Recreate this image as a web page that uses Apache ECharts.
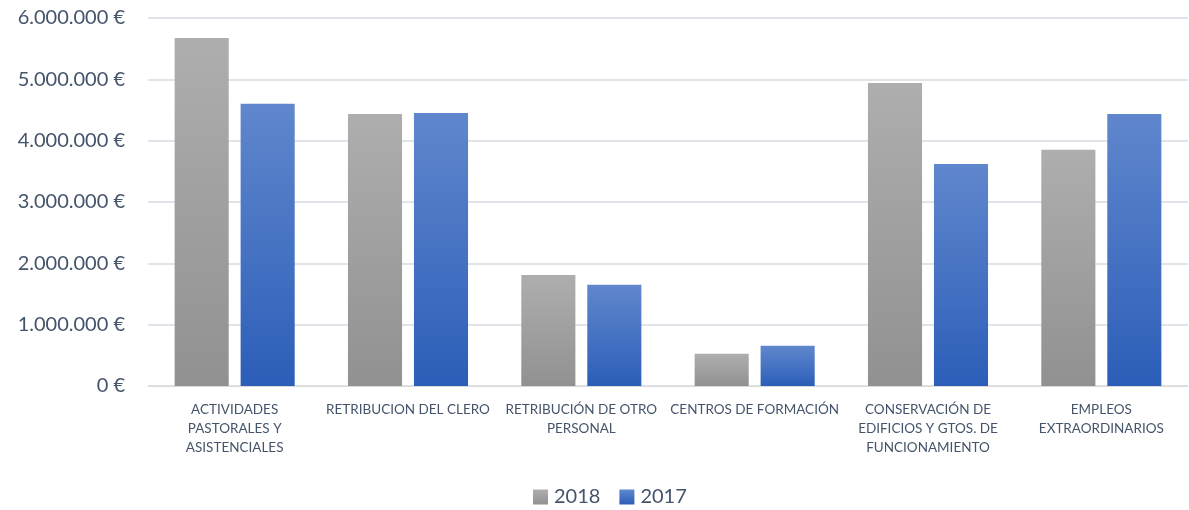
<!DOCTYPE html>
<html>
<head>
<meta charset="utf-8">
<script src="https://cdn.jsdelivr.net/npm/echarts@6/dist/echarts.min.js"></script>
<style>
  html, body { margin: 0; padding: 0; background: #fff; }
  #chart { width: 1189px; height: 510px; }
</style>
</head>
<body>
<div id="chart"></div>
<script>
const categories = [
  'ACTIVIDADES\nPASTORALES Y\nASISTENCIALES',
  'RETRIBUCION DEL CLERO',
  'RETRIBUCIÓN DE OTRO\nPERSONAL',
  'CENTROS DE FORMACIÓN',
  'CONSERVACIÓN DE\nEDIFICIOS Y GTOS. DE\nFUNCIONAMIENTO',
  'EMPLEOS\nEXTRAORDINARIOS'
]
const values2018 = [5675000, 4435000, 1810000, 525000, 4940000, 3850000]
const values2017 = [4600000, 4450000, 1650000, 655000, 3620000, 4435000]

const textColor = '#44546A'
const font = 'Lato, "Open Sans", sans-serif'

const grad = (top, bottom) =>
  new echarts.graphic.LinearGradient(0, 0, 0, 1, [
    { offset: 0, color: top },
    { offset: 1, color: bottom },
  ])

const fmt = (v) => {
  const s = String(Math.round(v)).replace(/\B(?=(\d{3})+(?!\d))/g, '.')
  return s + ' €'
}

const chart = echarts.init(document.getElementById('chart'))
chart.setOption({
  animation: false,
  textStyle: { fontFamily: font },
  grid: { left: 148, right: 1, top: 18, bottom: 124 },
  legend: {
    data: ['2018', '2017'],
    top: 482,
    left: 528,
    itemWidth: 15,
    itemHeight: 15,
    itemGap: 19,
    icon: 'rect',
    textStyle: { color: textColor, fontSize: 20, fontFamily: font, padding: [0, 0, 0, 1] },
  },
  xAxis: {
    type: 'category',
    data: categories,
    axisLine: { lineStyle: { color: '#D9D9D9', width: 1 } },
    axisTick: { show: false },
    axisLabel: {
      color: textColor,
      fontSize: 13.5,
      lineHeight: 19,
      margin: 14,
      interval: 0,
      fontFamily: font,
    },
  },
  yAxis: {
    type: 'value',
    min: 0,
    max: 6000000,
    interval: 1000000,
    axisLine: { show: false },
    axisTick: { show: false },
    splitLine: { lineStyle: { color: '#E1E5EB', width: 2 } },
    axisLabel: {
      color: textColor,
      fontSize: 20,
      margin: 23,
      fontFamily: font,
      formatter: fmt,
    },
  },
  series: [
    {
      name: '2018',
      type: 'bar',
      data: values2018,
      barWidth: '31.2%',
      barGap: '22%',
      itemStyle: { color: grad('#AEAEAE', '#919191') },
    },
    {
      name: '2017',
      type: 'bar',
      data: values2017,
      barWidth: '31.2%',
      itemStyle: { color: grad('#6087CD', '#2C5EB8') },
    },
  ],
})
</script>
</body>
</html>
